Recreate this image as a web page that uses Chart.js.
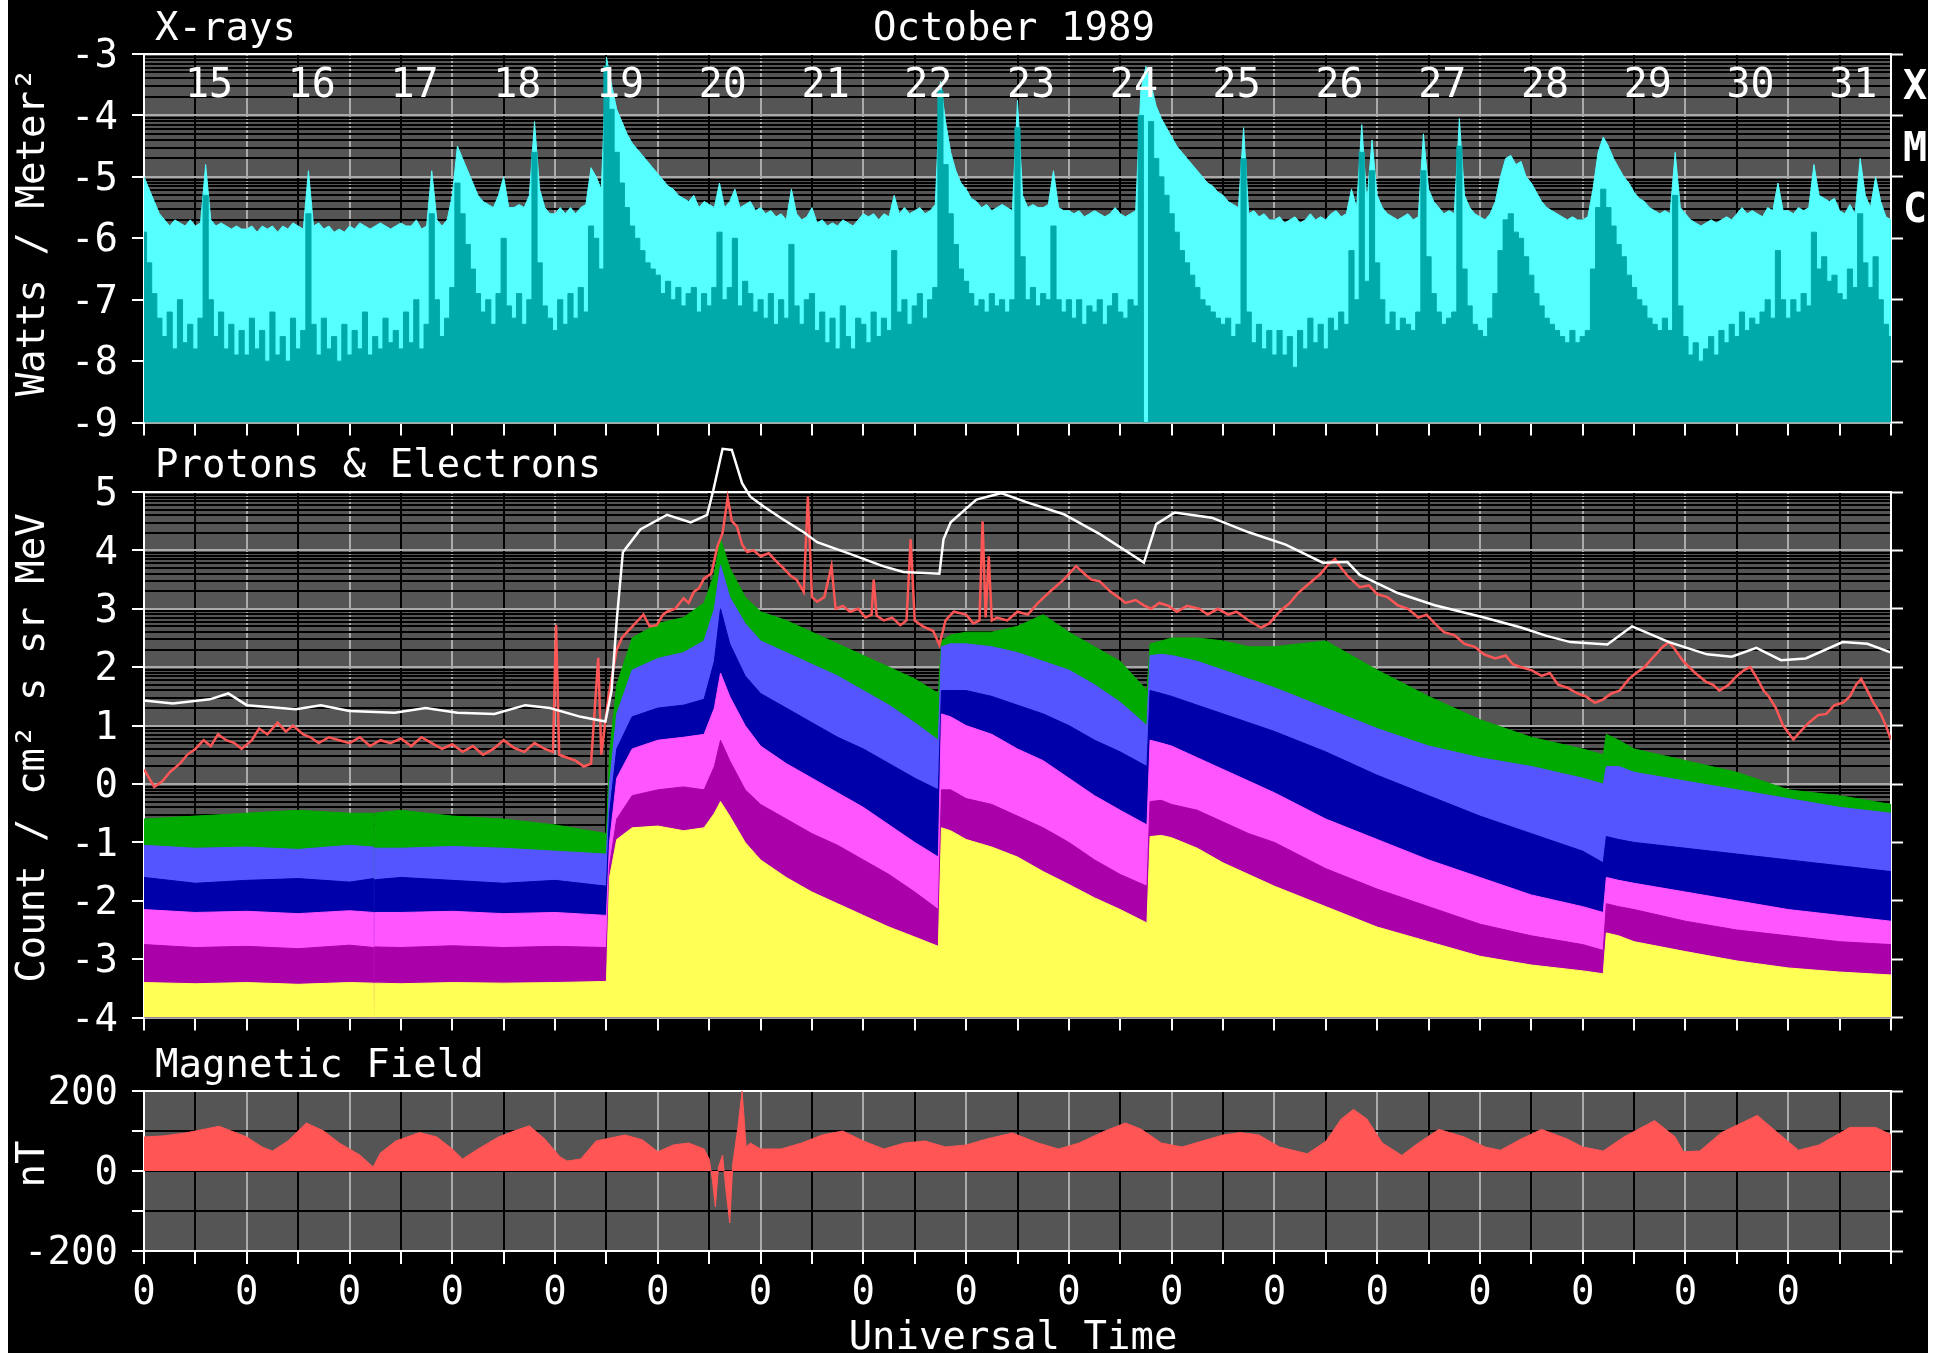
<!DOCTYPE html>
<html>
<head>
<meta charset="utf-8">
<title>GOES October 1989</title>
<script src="https://cdn.jsdelivr.net/npm/chart.js@4.4.1/dist/chart.umd.min.js"></script>
<style>
  html, body { margin: 0; padding: 0; background: #000; }
  #page { position: relative; width: 1940px; height: 1353px; background: #000; overflow: hidden; }
  #page canvas { position: absolute; left: 0; }
  .edge { position: absolute; top: 0; height: 1353px; background: #fff; }
</style>
</head>
<body>
<div id="page">
  <canvas id="xrayCanvas" width="1940" height="460" style="top:0px"></canvas>
  <canvas id="protonCanvas" width="1940" height="615" style="top:440px"></canvas>
  <canvas id="magCanvas" width="1940" height="313" style="top:1040px"></canvas>
  <div class="edge" style="left:0;width:8px"></div>
  <div class="edge" style="right:0;width:12px"></div>
</div>
<script>
// ---------------- data ----------------
// Days of October shown along the top of the X-ray panel
const dayNames = ['15','16','17','18','19','20','21','22','23','24','25','26','27','28','29','30','31'];

// X-ray flux, log10(W/m^2), one sample every XRAY_STEP days from Oct 15 00 UT
const XRAY_STEP = 0.05;
const xrayLong = [
  -5.0,-5.2,-5.4,-5.6,-5.7,-5.8,-5.7,-5.75,-5.8,-5.7,-5.8,-5.75,-4.8,-5.7,-5.8,-5.75,-5.8,-5.85,-5.8,-5.85,
  -5.85,-5.8,-5.9,-5.8,-5.85,-5.8,-5.9,-5.8,-5.85,-5.75,-5.8,-5.85,-4.9,-5.8,-5.75,-5.85,-5.8,-5.9,-5.85,-5.9,
  -5.8,-5.85,-5.75,-5.8,-5.85,-5.8,-5.75,-5.8,-5.85,-5.8,-5.75,-5.8,-5.8,-5.7,-5.85,-5.8,-4.9,-5.7,-5.8,-5.7,
  -5.3,-4.5,-4.7,-4.9,-5.1,-5.3,-5.4,-5.45,-5.5,-5.3,-5.0,-5.5,-5.5,-5.45,-5.5,-5.3,-4.1,-5.2,-5.5,-5.6,
  -5.6,-5.5,-5.6,-5.5,-5.6,-5.5,-5.45,-4.85,-5.0,-5.2,-3.05,-3.5,-3.9,-4.1,-4.3,-4.45,-4.55,-4.65,-4.75,-4.85,
  -4.95,-5.05,-5.15,-5.2,-5.3,-5.35,-5.4,-5.3,-5.5,-5.4,-5.45,-5.5,-5.1,-5.5,-5.4,-5.2,-5.5,-5.45,-5.4,-5.55,
  -5.5,-5.6,-5.55,-5.65,-5.6,-5.7,-5.2,-5.6,-5.7,-5.65,-5.5,-5.75,-5.7,-5.8,-5.75,-5.8,-5.7,-5.75,-5.8,-5.7,
  -5.6,-5.65,-5.6,-5.7,-5.6,-5.65,-5.3,-5.6,-5.5,-5.6,-5.55,-5.5,-5.6,-5.55,-5.45,-3.45,-4.1,-4.6,-4.9,-5.1,
  -5.2,-5.35,-5.4,-5.5,-5.45,-5.55,-5.5,-5.45,-5.5,-5.55,-3.75,-5.3,-5.5,-5.45,-5.5,-5.5,-5.45,-4.9,-5.5,-5.55,
  -5.55,-5.6,-5.55,-5.65,-5.6,-5.55,-5.6,-5.65,-5.6,-5.5,-5.6,-5.65,-5.6,-5.55,-3.6,-3.2,-3.5,-3.85,-4.05,-4.2,
  -4.35,-4.5,-4.6,-4.7,-4.8,-4.9,-5.0,-5.1,-5.15,-5.25,-5.3,-5.4,-5.45,-5.5,-4.2,-5.6,-5.55,-5.65,-5.6,-5.7,
  -5.7,-5.65,-5.75,-5.7,-5.65,-5.75,-5.7,-5.6,-5.7,-5.65,-5.7,-5.6,-5.55,-5.65,-5.6,-5.2,-5.5,-4.15,-5.4,-4.4,
  -5.3,-5.5,-5.6,-5.65,-5.7,-5.65,-5.6,-5.7,-5.65,-4.3,-5.2,-5.4,-5.5,-5.6,-5.55,-5.6,-4.05,-5.3,-5.5,-5.6,
  -5.65,-5.7,-5.6,-5.4,-5.0,-4.7,-4.65,-4.8,-4.75,-5.0,-5.1,-5.25,-5.4,-5.5,-5.55,-5.6,-5.65,-5.7,-5.65,-5.7,
  -5.7,-5.65,-5.2,-4.6,-4.35,-4.5,-4.7,-4.85,-5.0,-5.1,-5.25,-5.35,-5.4,-5.5,-5.55,-5.6,-5.55,-5.6,-4.6,-5.5,
  -5.6,-5.7,-5.75,-5.8,-5.75,-5.7,-5.75,-5.7,-5.65,-5.7,-5.6,-5.5,-5.6,-5.55,-5.6,-5.65,-5.5,-5.55,-5.1,-5.55,
  -5.55,-5.6,-5.5,-5.55,-5.5,-4.8,-5.3,-5.35,-5.4,-5.35,-5.55,-5.6,-5.45,-5.6,-4.7,-5.3,-5.5,-5.0,-5.4,-5.65,
  -5.7
];
// short channel; the -9 sample on Oct 24 is a data dropout
const xrayShort = [
  -5.9,-6.4,-6.9,-7.3,-7.6,-7.2,-7.8,-7.0,-7.7,-7.4,-7.8,-7.3,-5.3,-7.0,-7.6,-7.2,-7.8,-7.4,-7.9,-7.5,
  -7.9,-7.3,-7.8,-7.5,-8.0,-7.2,-7.9,-7.6,-8.0,-7.3,-7.8,-7.5,-5.6,-7.4,-7.9,-7.3,-7.8,-7.6,-8.0,-7.4,
  -7.9,-7.5,-7.8,-7.2,-7.9,-7.6,-7.8,-7.3,-7.7,-7.5,-7.8,-7.2,-7.7,-7.0,-7.8,-7.4,-5.6,-7.0,-7.6,-7.3,
  -6.8,-5.1,-5.6,-6.1,-6.5,-6.9,-7.2,-7.0,-7.4,-6.9,-6.0,-7.1,-7.3,-6.9,-7.4,-7.0,-4.6,-6.4,-7.1,-7.3,
  -7.5,-7.0,-7.4,-6.9,-7.3,-6.8,-7.2,-5.8,-6.0,-6.5,-3.2,-3.9,-4.6,-5.1,-5.5,-5.8,-6.0,-6.2,-6.4,-6.5,
  -6.6,-6.9,-6.7,-7.0,-6.8,-7.1,-6.9,-6.8,-7.2,-6.9,-7.1,-6.8,-5.9,-7.0,-6.8,-6.0,-7.1,-6.7,-6.9,-7.2,
  -7.0,-7.3,-6.9,-7.4,-7.0,-7.3,-6.1,-7.1,-7.4,-7.0,-6.9,-7.5,-7.2,-7.7,-7.3,-7.8,-7.1,-7.6,-7.8,-7.3,
  -7.4,-7.7,-7.2,-7.6,-7.3,-7.5,-6.2,-7.2,-7.0,-7.4,-7.1,-6.9,-7.3,-7.0,-6.8,-3.6,-4.8,-5.6,-6.1,-6.5,
  -6.7,-6.9,-7.1,-7.0,-7.2,-6.9,-7.1,-7.0,-7.2,-7.0,-4.2,-6.3,-7.0,-6.8,-7.1,-6.9,-7.0,-5.8,-7.0,-7.2,
  -7.0,-7.3,-7.0,-7.4,-7.1,-7.2,-7.0,-7.4,-7.1,-6.9,-7.2,-7.3,-7.0,-7.1,-4.0,-9.0,-4.1,-4.7,-5.0,-5.3,
  -5.6,-5.9,-6.2,-6.4,-6.6,-6.8,-7.0,-7.1,-7.2,-7.3,-7.4,-7.3,-7.6,-7.4,-4.7,-7.2,-7.7,-7.4,-7.8,-7.5,
  -7.9,-7.5,-7.9,-7.6,-8.1,-7.5,-7.8,-7.3,-7.7,-7.4,-7.8,-7.3,-7.5,-7.2,-7.4,-6.2,-7.0,-4.6,-6.7,-4.9,
  -6.4,-7.0,-7.4,-7.2,-7.5,-7.3,-7.4,-7.5,-7.2,-4.9,-6.3,-6.9,-7.2,-7.4,-7.3,-7.2,-4.5,-6.5,-7.1,-7.4,
  -7.5,-7.6,-7.3,-6.9,-6.2,-5.7,-5.6,-5.9,-6.0,-6.3,-6.6,-6.9,-7.1,-7.3,-7.4,-7.5,-7.6,-7.7,-7.5,-7.7,
  -7.6,-7.5,-6.5,-5.5,-5.2,-5.5,-5.8,-6.1,-6.3,-6.6,-6.8,-7.0,-7.1,-7.3,-7.4,-7.5,-7.3,-7.5,-5.3,-7.1,
  -7.6,-7.9,-7.7,-8.0,-7.8,-7.6,-7.9,-7.5,-7.7,-7.4,-7.6,-7.2,-7.5,-7.3,-7.4,-7.2,-7.0,-7.3,-6.2,-7.0,
  -7.3,-7.0,-7.2,-6.9,-7.1,-5.9,-6.5,-6.3,-6.7,-6.6,-6.9,-7.0,-6.5,-6.8,-5.6,-6.4,-6.8,-6.3,-7.0,-7.4,
  -7.6
];

// Particle fluxes, log10(count / cm^2 s sr MeV), at the times below (days from Oct 15 00 UT)
const protonT = [0,0.5,1,1.5,2,2.235,2.24,2.245,2.5,3,3.5,4,4.5,
  4.53,4.6,4.75,5,5.25,5.45,5.55,5.61,5.7,5.85,
  6,6.25,6.5,6.75,7,7.25,7.5,7.73,7.76,7.85,
  8,8.25,8.5,8.75,9,9.25,9.5,9.76,9.79,9.9,
  10,10.25,10.5,10.75,11,11.5,12,12.5,13,13.5,
  14,14.2,14.23,14.35,14.5,15,15.5,16,16.5,17];
const protonGreen = [-0.6,-0.55,-0.5,-0.45,-0.5,-0.5,-4,-0.5,-0.45,-0.55,-0.6,-0.7,-0.85,
  0.5,1.7,2.5,2.75,2.85,3.1,3.6,4.2,3.7,3.2,
  2.95,2.8,2.6,2.4,2.2,2.0,1.8,1.55,2.45,2.55,
  2.6,2.6,2.7,2.9,2.6,2.35,2.1,1.6,2.4,2.45,
  2.5,2.5,2.45,2.35,2.35,2.45,1.95,1.5,1.1,0.8,
  0.6,0.5,0.85,0.75,0.6,0.4,0.2,-0.1,-0.2,-0.35];
const protonLightBlue = [-1.05,-1.1,-1.08,-1.12,-1.05,-1.08,-4,-1.1,-1.1,-1.07,-1.1,-1.15,-1.2,
  0.0,1.2,1.95,2.15,2.25,2.45,3.0,3.75,3.2,2.75,
  2.45,2.25,2.05,1.85,1.6,1.35,1.05,0.75,2.35,2.4,
  2.4,2.35,2.25,2.1,1.95,1.7,1.4,1.0,2.2,2.22,
  2.2,2.1,1.95,1.8,1.65,1.3,0.95,0.65,0.45,0.3,
  0.1,0.0,0.3,0.3,0.2,0.05,-0.1,-0.25,-0.4,-0.5];
const protonDarkBlue = [-1.6,-1.7,-1.65,-1.62,-1.68,-1.62,-4,-1.64,-1.6,-1.65,-1.7,-1.65,-1.75,
  -0.5,0.6,1.15,1.3,1.35,1.45,2.1,3.0,2.4,1.85,
  1.55,1.3,1.05,0.8,0.6,0.35,0.1,-0.1,1.6,1.6,
  1.6,1.5,1.35,1.2,1.0,0.75,0.55,0.3,1.6,1.55,
  1.5,1.35,1.2,1.05,0.9,0.55,0.15,-0.2,-0.55,-0.85,
  -1.15,-1.35,-0.9,-0.95,-1.0,-1.1,-1.2,-1.3,-1.4,-1.5];
const protonPink = [-2.15,-2.2,-2.18,-2.22,-2.17,-2.2,-4,-2.2,-2.2,-2.18,-2.22,-2.2,-2.25,
  -1.0,0.1,0.6,0.75,0.8,0.85,1.3,1.9,1.5,1.0,
  0.65,0.35,0.1,-0.15,-0.4,-0.7,-1.0,-1.25,1.2,1.15,
  1.0,0.85,0.6,0.4,0.1,-0.2,-0.45,-0.7,0.75,0.7,
  0.65,0.45,0.25,0.05,-0.15,-0.6,-0.95,-1.3,-1.6,-1.9,
  -2.1,-2.2,-1.6,-1.65,-1.7,-1.85,-2.0,-2.15,-2.25,-2.35];
const protonPurple = [-2.75,-2.8,-2.78,-2.82,-2.76,-2.8,-4,-2.79,-2.8,-2.77,-2.8,-2.78,-2.8,
  -1.4,-0.6,-0.2,-0.1,-0.05,-0.1,0.3,0.75,0.4,-0.1,
  -0.35,-0.6,-0.85,-1.05,-1.3,-1.55,-1.85,-2.15,-0.1,-0.1,
  -0.25,-0.35,-0.55,-0.75,-1.0,-1.3,-1.55,-1.75,-0.3,-0.28,
  -0.35,-0.45,-0.65,-0.85,-1.0,-1.45,-1.8,-2.1,-2.4,-2.6,
  -2.75,-2.85,-2.05,-2.1,-2.15,-2.35,-2.5,-2.6,-2.7,-2.75];
const protonYellow = [-3.4,-3.42,-3.4,-3.43,-3.4,-3.41,-4,-3.41,-3.42,-3.4,-3.41,-3.4,-3.38,
  -1.6,-0.95,-0.75,-0.72,-0.8,-0.75,-0.5,-0.3,-0.55,-1.0,
  -1.3,-1.6,-1.85,-2.05,-2.25,-2.45,-2.62,-2.78,-0.75,-0.8,
  -0.95,-1.08,-1.25,-1.5,-1.72,-1.95,-2.15,-2.38,-0.9,-0.88,
  -0.92,-1.1,-1.35,-1.55,-1.75,-2.1,-2.45,-2.7,-2.95,-3.1,
  -3.2,-3.25,-2.55,-2.6,-2.7,-2.87,-3.03,-3.15,-3.22,-3.27];

// White trace: [day, log flux]
const whiteTrace = [
  [0,1.43],[0.28,1.38],[0.64,1.45],[0.82,1.55],[1.0,1.35],[1.48,1.28],[1.72,1.35],[2.0,1.25],[2.44,1.22],[2.74,1.3],
  [3.05,1.22],[3.41,1.2],[3.71,1.35],[3.95,1.3],[4.25,1.15],[4.49,1.07],[4.55,1.6],[4.6,2.8],[4.66,3.97],[4.83,4.36],
  [5.09,4.61],[5.32,4.48],[5.48,4.61],[5.54,5.03],[5.63,5.74],[5.72,5.72],[5.82,5.15],[5.9,4.92],[6.03,4.75],[6.22,4.53],
  [6.42,4.31],[6.55,4.14],[6.87,3.94],[7.19,3.73],[7.39,3.63],[7.74,3.6],[7.78,4.19],[7.85,4.48],[8.1,4.87],[8.34,4.98],
  [8.58,4.83],[8.95,4.62],[9.31,4.27],[9.73,3.79],[9.85,4.45],[10.03,4.65],[10.39,4.56],[10.75,4.31],[11.11,4.1],[11.47,3.79],
  [11.71,3.8],[11.83,3.58],[12.2,3.27],[12.56,3.06],[13.04,2.85],[13.4,2.68],[13.64,2.54],[13.88,2.43],[14.24,2.39],[14.48,2.7],
  [14.84,2.43],[15.21,2.22],[15.45,2.18],[15.69,2.33],[15.93,2.12],[16.17,2.15],[16.53,2.43],[16.77,2.4],[17,2.25]
];

// Red trace: [day, log flux]
const redTrace = [
  [0,0.25],[0.05,0.1],[0.1,-0.05],[0.18,0.05],[0.25,0.2],[0.35,0.35],[0.42,0.5],[0.5,0.6],[0.58,0.75],[0.65,0.65],
  [0.72,0.85],[0.8,0.75],[0.88,0.7],[0.95,0.6],[1.05,0.75],[1.12,0.95],[1.2,0.85],[1.3,1.05],[1.38,0.9],[1.45,1.0],
  [1.55,0.85],[1.62,0.8],[1.7,0.7],[1.8,0.8],[1.9,0.75],[2.0,0.7],[2.1,0.8],[2.2,0.65],[2.3,0.75],[2.4,0.7],
  [2.5,0.78],[2.6,0.65],[2.7,0.8],[2.8,0.7],[2.9,0.6],[3.0,0.68],[3.1,0.55],[3.2,0.65],[3.3,0.5],[3.4,0.6],
  [3.5,0.75],[3.6,0.62],[3.7,0.55],[3.8,0.7],[3.9,0.6],[3.98,0.55],[4.01,2.72],[4.04,0.5],[4.12,0.45],[4.2,0.4],
  [4.28,0.3],[4.35,0.35],[4.42,2.16],[4.45,0.5],[4.52,1.5],[4.6,2.3],[4.65,2.5],[4.7,2.6],[4.78,2.75],[4.86,2.9],
  [4.92,2.7],[4.99,2.72],[5.05,2.9],[5.09,2.95],[5.17,3.0],[5.25,3.18],[5.3,3.1],[5.35,3.29],[5.4,3.35],[5.45,3.52],
  [5.52,3.6],[5.58,4.07],[5.63,4.3],[5.68,4.9],[5.72,4.5],[5.77,4.41],[5.82,4.1],[5.87,3.97],[5.93,4.0],[6.0,3.9],
  [6.08,3.95],[6.16,3.8],[6.22,3.7],[6.29,3.57],[6.35,3.5],[6.42,3.29],[6.46,4.92],[6.5,3.2],[6.55,3.12],[6.62,3.2],
  [6.69,3.73],[6.73,3.0],[6.8,3.05],[6.87,2.95],[6.95,3.0],[7.02,2.85],[7.08,2.9],[7.1,3.5],[7.13,2.88],[7.2,2.8],
  [7.28,2.85],[7.36,2.72],[7.42,2.8],[7.46,4.19],[7.5,2.8],[7.58,2.7],[7.68,2.62],[7.74,2.38],[7.8,2.8],[7.88,2.95],
  [8.0,2.9],[8.07,2.75],[8.13,2.8],[8.16,4.5],[8.19,2.85],[8.22,3.9],[8.25,2.8],[8.3,2.85],[8.4,2.8],[8.5,2.95],
  [8.6,2.9],[8.7,3.1],[8.82,3.3],[8.95,3.5],[9.07,3.73],[9.15,3.6],[9.22,3.5],[9.3,3.47],[9.4,3.3],[9.48,3.2],
  [9.55,3.1],[9.65,3.15],[9.73,3.06],[9.8,3.0],[9.88,3.1],[9.97,3.05],[10.05,2.95],[10.15,3.05],[10.27,3.0],[10.35,2.9],
  [10.45,3.0],[10.55,2.9],[10.63,2.95],[10.75,2.8],[10.87,2.68],[10.95,2.75],[11.05,2.95],[11.15,3.1],[11.23,3.27],[11.35,3.45],
  [11.45,3.6],[11.52,3.75],[11.59,3.85],[11.65,3.7],[11.72,3.55],[11.83,3.37],[11.92,3.4],[12.0,3.25],[12.1,3.2],[12.2,3.06],
  [12.3,3.0],[12.4,2.85],[12.48,2.9],[12.56,2.75],[12.65,2.6],[12.75,2.55],[12.85,2.4],[12.95,2.35],[13.04,2.22],[13.15,2.15],
  [13.25,2.2],[13.32,2.05],[13.4,2.0],[13.5,1.95],[13.6,1.85],[13.68,1.9],[13.76,1.7],[13.85,1.65],[13.95,1.55],[14.03,1.5],
  [14.12,1.39],[14.2,1.45],[14.28,1.55],[14.36,1.6],[14.45,1.8],[14.52,1.9],[14.6,2.0],[14.7,2.2],[14.78,2.35],[14.84,2.43],
  [14.9,2.3],[14.98,2.1],[15.09,1.91],[15.2,1.75],[15.27,1.7],[15.33,1.6],[15.42,1.7],[15.5,1.85],[15.57,1.95],[15.63,2.0],
  [15.7,1.8],[15.76,1.6],[15.81,1.5],[15.88,1.3],[15.95,1.0],[16.05,0.76],[16.12,0.9],[16.2,1.05],[16.29,1.18],[16.37,1.2],
  [16.45,1.35],[16.53,1.39],[16.6,1.5],[16.66,1.7],[16.71,1.8],[16.77,1.6],[16.83,1.39],[16.9,1.2],[16.95,1.0],[17,0.76]
];

// Magnetic field, nT
const magT = [0,0.2,0.4,0.6,0.73,0.85,1.0,1.15,1.25,1.4,1.58,1.75,1.9,2.1,2.23,2.3,2.45,2.68,2.85,3.0,
  3.1,3.25,3.45,3.6,3.75,3.9,4.05,4.12,4.25,4.4,4.68,4.85,5.0,5.15,5.3,5.45,5.5,5.53,5.56,5.59,
  5.63,5.66,5.7,5.73,5.78,5.82,5.86,5.9,6.0,6.2,6.4,6.6,6.8,7.0,7.2,7.4,7.6,7.8,8.0,8.2,
  8.45,8.7,8.9,9.1,9.35,9.55,9.7,9.9,10.1,10.3,10.5,10.67,10.85,11.05,11.32,11.5,11.65,11.77,11.9,12.05,
  12.24,12.4,12.6,12.85,13.05,13.2,13.4,13.6,13.85,14.0,14.2,14.4,14.7,14.9,14.98,15.14,15.35,15.7,15.9,16.1,
  16.3,16.6,16.85,17];
const magV = [85,88,95,105,112,100,85,60,50,75,120,100,70,40,10,45,75,96,85,55,
  30,55,85,100,113,80,35,25,30,75,90,78,48,65,70,55,30,-20,-90,10,
  40,-40,-130,20,110,200,60,70,55,55,70,90,100,75,55,70,75,60,65,80,
  95,70,55,70,100,120,105,70,60,75,90,96,90,60,43,74,130,154,130,70,
  39,70,104,85,60,52,80,104,80,60,50,85,126,85,48,50,96,139,95,52,
  65,109,109,91];

// Flare classes on the right of the X-ray panel
const flareClasses = [{ at: -3.5, label: 'X' }, { at: -4.5, label: 'M' }, { at: -5.5, label: 'C' }];

// ---------------- styling ----------------
const FONT = '"DejaVu Sans Mono", "Liberation Mono", monospace';
const COL = {
  cyan: '#55ffff', teal: '#00aaaa', green: '#00aa00', lightBlue: '#5555ff', darkBlue: '#0000aa',
  pink: '#ff55ff', purple: '#aa00aa', yellow: '#ffff55', red: '#ff5555', white: '#ffffff',
  plot: '#555555', gridLight: '#aaaaaa', gridDark: '#000000'
};
const N_DAYS = dayNames.length;
const LEFT_W = 144, RIGHT_W = 49;
const DAY_LABEL_POS = 0.633;

Chart.defaults.font.family = FONT;

const pairs = (ts, vs) => ts.map((t, i) => ({ x: t, y: vs[i] }));
const points = tv => tv.map(p => ({ x: p[0], y: p[1] }));
const sampled = (vs, step) => vs.map((v, i) => ({ x: i * step, y: v }));

// half-day grid positions along the time axis
const halfDays = [];
for (let i = 0; i <= N_DAYS * 2; i++) halfDays.push(i / 2);

// decade lines plus log minor lines (2..9) between them
function logGrid(lo, hi) {
  const out = [];
  for (let d = lo; d < hi; d++) {
    out.push(d);
    for (let k = 2; k <= 9; k++) out.push(d + Math.log10(k));
  }
  out.push(hi);
  return out;
}
const isInt = v => Math.abs(v - Math.round(v)) < 1e-9;

function timeAxis(height, labels) {
  return {
    type: 'linear', min: 0, max: N_DAYS,
    afterBuildTicks: s => { s.ticks = halfDays.map(v => ({ value: v })); },
    afterFit: s => { s.height = height; },
    border: { display: false },
    grid: {
      color: c => isInt(c.tick.value) ? COL.gridLight : COL.gridDark,
      lineWidth: 2, drawTicks: true, tickLength: 13, tickWidth: 2, tickColor: COL.white
    },
    ticks: {
      display: labels, autoSkip: false, maxRotation: 0, minRotation: 0, padding: 6,
      color: COL.white, font: { family: FONT, size: 39 },
      callback: v => (isInt(v) && v < N_DAYS) ? '0' : ''
    }
  };
}

function leftAxis(min, max, gridValues, labelFn, gridColorFn) {
  return {
    type: 'linear', position: 'left', min, max,
    afterBuildTicks: s => { s.ticks = gridValues.map(v => ({ value: v })); },
    afterFit: s => { s.width = LEFT_W; },
    border: { display: true, color: COL.white, width: 2 },
    grid: {
      color: gridColorFn, lineWidth: 2, drawTicks: true, tickLength: 12, tickWidth: 2,
      tickColor: c => labelFn.tickMark(c.tick.value) ? COL.white : 'rgba(0,0,0,0)'
    },
    ticks: {
      autoSkip: false, padding: 14, labelOffset: 3, color: COL.white, font: { family: FONT, size: 39 },
      callback: v => labelFn(v)
    }
  };
}

function rightAxis(min, max, tickValues, labelValues, labelFn) {
  const all = tickValues.concat(labelValues);
  return {
    type: 'linear', position: 'right', min, max,
    afterBuildTicks: s => { s.ticks = all.map(v => ({ value: v })); },
    afterFit: s => { s.width = RIGHT_W; },
    border: { display: true, color: COL.white, width: 2 },
    grid: {
      drawOnChartArea: false, drawTicks: true, tickLength: 12, tickWidth: 2,
      tickColor: c => tickValues.includes(c.tick.value) ? COL.white : 'rgba(0,0,0,0)'
    },
    ticks: {
      autoSkip: false, padding: 0, labelOffset: 4, color: COL.white, font: { family: FONT, size: 40, weight: 'bold' },
      callback: v => labelFn(v)
    }
  };
}

function panelPlugin(name, texts) {
  return {
    id: 'panel_' + name,
    beforeDraw(chart) {
      const { ctx, chartArea: a } = chart;
      ctx.save();
      ctx.fillStyle = COL.plot;
      ctx.fillRect(a.left, a.top, a.right - a.left, a.bottom - a.top);
      ctx.restore();
    },
    afterDraw(chart) {
      const ctx = chart.ctx;
      ctx.save();
      ctx.fillStyle = COL.white;
      for (const t of texts(chart)) {
        ctx.font = (t.size || 39) + 'px ' + FONT;
        if (t.rotate) {
          ctx.save();
          ctx.translate(t.x, t.y);
          ctx.rotate(-Math.PI / 2);
          ctx.textAlign = 'center';
          ctx.textBaseline = 'middle';
          ctx.fillText(t.text, 0, 0);
          ctx.restore();
        } else {
          ctx.textAlign = t.align || 'left';
          ctx.textBaseline = 'alphabetic';
          ctx.fillText(t.text, t.x, t.y);
        }
      }
      ctx.restore();
    }
  };
}

const baseOptions = {
  responsive: false, animation: false, devicePixelRatio: 1, events: [],
  plugins: { legend: { display: false }, tooltip: { enabled: false } },
  elements: { point: { radius: 0 }, line: { tension: 0 } }
};

function fillSet(data, color, stepped) {
  return { data, borderColor: color, backgroundColor: color, borderWidth: 1, fill: 'start', pointRadius: 0, stepped: stepped || false };
}
function lineSet(data, color, width) {
  return { data, borderColor: color, backgroundColor: color, borderWidth: width, fill: false, pointRadius: 0,
           clip: { left: 0, top: false, right: 0, bottom: 0 } };
}

// ---------------- X-ray panel ----------------
const xrayLabel = v => isInt(v) ? String(Math.round(v)) : '';
xrayLabel.tickMark = v => isInt(v);
new Chart(document.getElementById('xrayCanvas'), {
  type: 'line',
  data: {
    datasets: [
      fillSet(sampled(xrayShort, XRAY_STEP), COL.teal, 'middle'),
      fillSet(sampled(xrayLong, XRAY_STEP), COL.cyan)
    ]
  },
  options: Object.assign({}, baseOptions, {
    layout: { padding: { top: 54, left: 0, right: 0, bottom: 0 } },
    scales: {
      x: timeAxis(33, false),
      y: leftAxis(-9, -3, logGrid(-9, -3), xrayLabel,
        c => c.tick.value === -3 ? COL.white : (isInt(c.tick.value) ? COL.gridLight : COL.gridDark)),
      yR: rightAxis(-9, -3, [-9, -8, -7, -6, -5, -4, -3], flareClasses.map(f => f.at),
        v => { const f = flareClasses.find(f => f.at === v); return f ? f.label : ''; })
    }
  }),
  plugins: [panelPlugin('xray', chart => {
    const xs = chart.scales.x;
    const out = [
      { text: 'X-rays', x: 155, y: 40 },
      { text: 'October 1989', x: 1014, y: 40, align: 'center' },
      { text: 'Watts / Meter²', x: 34, y: 232, rotate: true }
    ];
    dayNames.forEach((d, i) => out.push({ text: d, x: xs.getPixelForValue(i + DAY_LABEL_POS), y: 97, align: 'center', size: 40 }));
    return out;
  })]
});

// ---------------- particle panel ----------------
const protonLabel = v => isInt(v) ? String(Math.round(v)) : '';
protonLabel.tickMark = v => isInt(v);
new Chart(document.getElementById('protonCanvas'), {
  type: 'line',
  data: {
    datasets: [
      lineSet(points(whiteTrace), COL.white, 2.5),
      lineSet(points(redTrace), COL.red, 2.5),
      fillSet(pairs(protonT, protonYellow), COL.yellow),
      fillSet(pairs(protonT, protonPurple), COL.purple),
      fillSet(pairs(protonT, protonPink), COL.pink),
      fillSet(pairs(protonT, protonDarkBlue), COL.darkBlue),
      fillSet(pairs(protonT, protonLightBlue), COL.lightBlue),
      fillSet(pairs(protonT, protonGreen), COL.green)
    ]
  },
  options: Object.assign({}, baseOptions, {
    layout: { padding: { top: 52, left: 0, right: 0, bottom: 0 } },
    scales: {
      x: timeAxis(30, false),
      y: leftAxis(-4, 5, logGrid(-4, 5), protonLabel,
        c => c.tick.value === 5 ? COL.white : (isInt(c.tick.value) ? COL.gridLight : COL.gridDark)),
      yR: rightAxis(-4, 5, [-4, -3, -2, -1, 0, 1, 2, 3, 4, 5], [], () => '')
    }
  }),
  plugins: [panelPlugin('protons', () => [
    { text: 'Protons & Electrons', x: 155, y: 37 },
    { text: 'Count / cm² s sr MeV', x: 34, y: 308, rotate: true }
  ])]
});

// ---------------- magnetic field panel ----------------
const magLabel = v => (v === 200 || v === 0 || v === -200) ? String(v) : '';
magLabel.tickMark = () => true;
new Chart(document.getElementById('magCanvas'), {
  type: 'line',
  data: {
    datasets: [
      { data: pairs(magT, magV), borderColor: COL.red, backgroundColor: COL.red, borderWidth: 1, fill: 'origin', pointRadius: 0 }
    ]
  },
  options: Object.assign({}, baseOptions, {
    layout: { padding: { top: 51, left: 0, right: 0, bottom: 0 } },
    scales: {
      x: timeAxis(102, true),
      y: leftAxis(-200, 200, [-200, -100, 0, 100, 200], magLabel,
        c => (c.tick.value === 200 || c.tick.value === -200) ? COL.white : COL.gridDark),
      yR: rightAxis(-200, 200, [-200, -100, 0, 100, 200], [], () => '')
    }
  }),
  plugins: [panelPlugin('mag', () => [
    { text: 'Magnetic Field', x: 155, y: 37 },
    { text: 'nT', x: 34, y: 124, rotate: true },
    { text: 'Universal Time', x: 1013, y: 309, align: 'center' }
  ])]
});
</script>
</body>
</html>
